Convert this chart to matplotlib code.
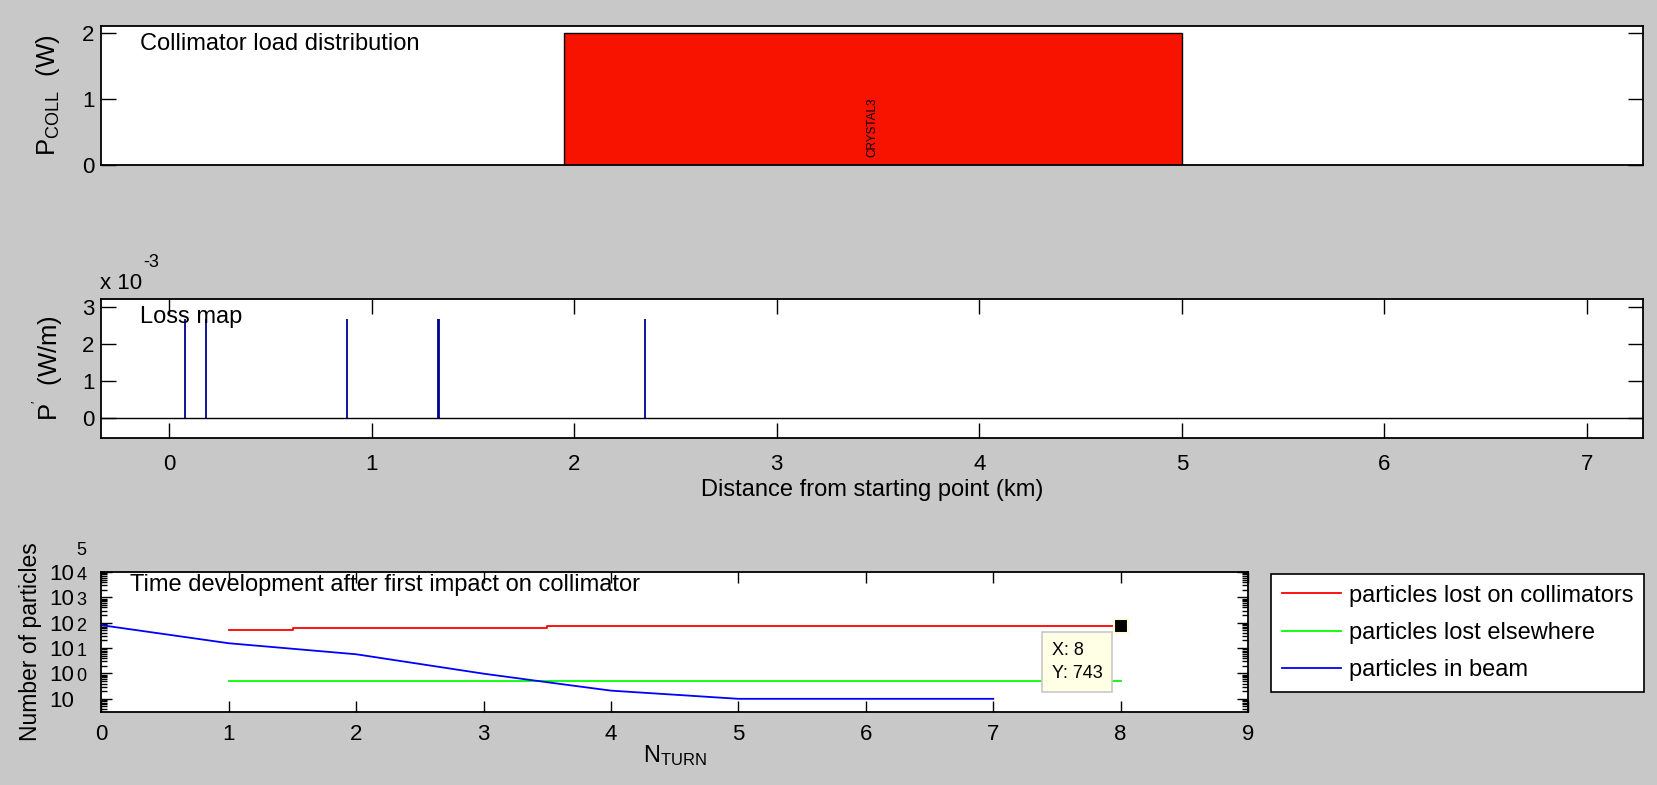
import numpy as np
import matplotlib.pyplot as plt
from matplotlib.ticker import NullLocator, NullFormatter, LogLocator, FixedLocator

# collimator load distribution (top panel)
coll_names = ['CRYSTAL3']
coll_centre = [3.474]   # km
coll_width = [3.05]     # km
coll_power = [2.0]      # W

# loss map (middle panel)
loss_s = [0.080, 0.180, 0.878, 1.326, 1.332, 2.348]             # km
loss_p = [2.69e-3, 2.69e-3, 2.69e-3, 2.69e-3, 2.69e-3, 2.69e-3]  # W/m

# time development after first impact (bottom panel)
turn_coll = [1, 1.5, 3.5, 8]
lost_coll = [540, 640, 743, 743]
turn_else = [1, 8]
lost_else = [5.2, 5.2]
turn_beam = [0, 1, 2, 3, 3.5, 4, 4.5, 5, 6, 7]
in_beam = [800, 155, 57, 9.8, 4.5, 2.1, 1.45, 1, 1, 1]
log_exps = [0, 1, 2, 3, 4, 5]

tip_turn, tip_val = 8, 743

plt.rcParams['font.family'] = ['Liberation Sans', 'DejaVu Sans']
plt.rcParams['mathtext.default'] = 'regular'
plt.rcParams['font.size'] = 17

W, H = 1658, 785
fig = plt.figure(figsize=(W / 100, H / 100), dpi=100, facecolor='#c8c8c8')


def add_axes(left, top, right, bottom):
    # pixel box -> figure fraction
    return fig.add_axes([left / W, 1 - bottom / H, (right - left) / W, (bottom - top) / H])


def style(ax, ticklen):
    for sp in ax.spines.values():
        sp.set_linewidth(1.3)
        sp.set_color('k')
    ax.tick_params(direction='in', top=True, right=True, length=ticklen, width=1.0,
                   labelsize=16, color='k')
    ax.tick_params(axis='y', pad=5)
    ax.tick_params(axis='x', pad=9)


ax1 = add_axes(101.5, 26, 1643, 165)
ax2 = add_axes(101.5, 299, 1643, 437.5)
ax3 = add_axes(101.5, 572, 1248, 711.5)

# ---- top: collimator load ----
ax1.bar(coll_centre, coll_power, width=coll_width, color='#f81200', edgecolor='k', linewidth=1.0)
for name, c in zip(coll_names, coll_centre):
    ax1.text(c, 0.12, name, rotation=90, ha='center', va='bottom', fontsize=8.5)
ax1.set_xlim(-0.334, 7.277)
ax1.set_ylim(0, 2.1)
ax1.set_yticks([0, 1, 2])
ax1.xaxis.set_major_locator(NullLocator())
style(ax1, 10.8)
ax1.text(0.025, 0.87, 'Collimator load distribution', transform=ax1.transAxes, va='center')
ax1.set_ylabel(r'$P_{COLL}$  (W)', va='center', fontsize=18.5)
ax1.yaxis.set_label_coords(-0.035, 0.5)

# ---- middle: loss map ----
ax2.axhline(0, color='k', lw=1.0)
ax2.vlines(loss_s, 0, loss_p, color='#000090', lw=1.3)
pmax = max(loss_p)
ax2.set_xlim(-0.334, 7.277)
ax2.set_ylim(-0.2 * pmax, 1.2 * pmax)
ax2.set_xticks(range(8))
ax2.set_yticks([0, 1e-3, 2e-3, 3e-3])
ax2.set_yticklabels(['0', '1', '2', '3'])
style(ax2, 10.8)
ax2.tick_params(axis='x', pad=12)
ax2.text(0.025, 0.87, 'Loss map', transform=ax2.transAxes, va='center')
ax2.text(-0.001, 1.1155, 'x 10', transform=ax2.transAxes, ha='left', va='center', fontsize=16)
ax2.text(0.0274, 1.2635, '-3', transform=ax2.transAxes, ha='left', va='center', fontsize=13)
ax2.set_ylabel(r"$P^{'}$  (W/m)", va='center', fontsize=18.5)
ax2.yaxis.set_label_coords(-0.035, 0.5)
ax2.set_xlabel('Distance from starting point (km)', va='center')
ax2.xaxis.set_label_coords(0.5, -0.381)

# ---- bottom: time development ----
l1, = ax3.plot(turn_coll, lost_coll, color='#ff0000', lw=1.3, drawstyle='steps-post',
               label='particles lost on collimators')
l2, = ax3.plot(turn_else, lost_else, color='#00ff00', lw=1.3, label='particles lost elsewhere')
l3, = ax3.plot(turn_beam, in_beam, color='#0000ff', lw=1.3, label='particles in beam')
ax3.set_yscale('log')
ax3.set_xlim(0, 9)
ax3.set_ylim(10 ** -0.5, 1e5)
ax3.set_xticks(range(10))
major = [10.0 ** e for e in log_exps]
ax3.yaxis.set_major_locator(FixedLocator(major))
ax3.yaxis.set_minor_locator(LogLocator(base=10, subs=np.arange(2, 10), numticks=20))
ax3.yaxis.set_minor_formatter(NullFormatter())
ax3.set_yticklabels(['10'] * len(major))
style(ax3, 8)
ax3.tick_params(axis='y', which='major', pad=19.5)
ax3.tick_params(axis='y', which='minor', direction='in', left=True, right=True, length=4, width=1.0)
for e, v in zip(log_exps, major):
    ax3.annotate(str(e), xy=(0, v), xycoords=('axes fraction', 'data'), xytext=(-25, 22),
                 textcoords='offset pixels', ha='left', va='center', fontsize=13,
                 annotation_clip=False)
ax3.text(0.025, 0.91, 'Time development after first impact on collimator',
         transform=ax3.transAxes, va='center')
ax3.set_ylabel('Number of particles', va='center', fontsize=16.5)
ax3.yaxis.set_label_coords(-0.062, 0.5)
ax3.set_xlabel(r'$N_{TURN}$', va='top')
ax3.xaxis.set_label_coords(0.5, -0.225)

# data tip
ax3.plot([tip_turn], [tip_val], 's', ms=10, mfc='k', mec='#fffbd8', mew=1.5, zorder=5)
ax3.annotate('X: %g\nY: %g' % (tip_turn, tip_val), xy=(tip_turn, tip_val), xytext=(-69, -16),
             textcoords='offset pixels', ha='left', va='top', fontsize=13, linespacing=1.45,
             bbox=dict(boxstyle='square,pad=0.55', fc='#ffffe6', ec='#c8c8c8', lw=1.2))

leg = fig.legend(handles=[l1, l2, l3], loc='upper left', bbox_to_anchor=(1271 / W, 1 - 574 / H),
                 fontsize=17, handlelength=2.5, handletextpad=0.35, borderpad=0.45,
                 labelspacing=0.65, borderaxespad=0, fancybox=False, framealpha=1)
leg.get_frame().set_edgecolor('k')
leg.get_frame().set_linewidth(1.2)

fig.savefig('out.png', dpi=100, facecolor=fig.get_facecolor())
